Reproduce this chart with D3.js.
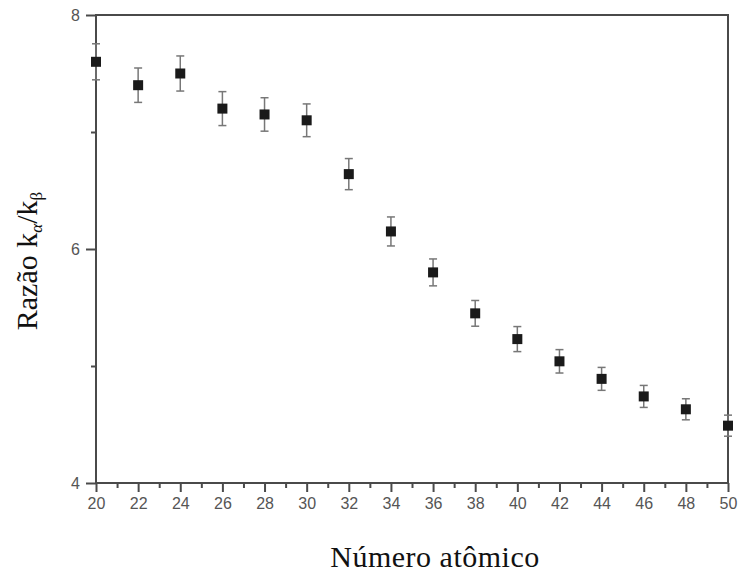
<!DOCTYPE html>
<html>
<head>
<meta charset="utf-8">
<script src="https://cdn.jsdelivr.net/npm/d3@7"></script>
<style>
	body { margin: 0; background: #fff; }
	.tick text { font-family: "Liberation Sans", Arial, sans-serif; }
	.title { font-family: "Liberation Serif", "Times New Roman", serif; }
</style>
</head>
<body>
<div id="chart"></div>
<script>
// valores
var atomicNumber = [20, 22, 24, 26, 28, 30, 32, 34, 36, 38, 40, 42, 44, 46, 48, 50];
var ratio = [7.60, 7.40, 7.50, 7.20, 7.15, 7.10, 6.64, 6.15, 5.80, 5.45, 5.23, 5.04, 4.89, 4.74, 4.63, 4.49];
var ratioErr = [0.154, 0.147, 0.150, 0.145, 0.143, 0.140, 0.133, 0.124, 0.115, 0.110, 0.107, 0.100, 0.098, 0.094, 0.090, 0.090];
var xTicks = [20, 22, 24, 26, 28, 30, 32, 34, 36, 38, 40, 42, 44, 46, 48, 50];
var yTicks = [4, 6, 8];

var w = 739;
var h = 573;

var svg = d3.select("#chart").append("svg")
	.attr("width", w)
	.attr("height", h);

var x = d3.scaleLinear().domain([20, 50]).range([96, 728]);
var y = d3.scaleLinear().domain([4, 8]).range([483, 15]);

var axisColor = "#4a4a4a";
var labelColor = "#555";

// eixo x: maiores a cada 2, menores a cada 1
svg.append("g")
	.attr("transform", "translate(0," + y(4) + ")")
	.call(d3.axisBottom(x).tickValues(d3.range(21, 50, 2)).tickSize(5).tickFormat(""))
	.call(function(g) { g.select(".domain").remove(); });
var gx = svg.append("g")
	.attr("transform", "translate(0," + y(4) + ")")
	.call(d3.axisBottom(x).tickValues(xTicks).tickSize(9).tickPadding(6).tickFormat(d3.format("d")));
gx.select(".domain").remove();

// eixo y
svg.append("g")
	.attr("transform", "translate(" + x(20) + ",0)")
	.call(d3.axisLeft(y).tickValues([5, 7]).tickSize(5).tickFormat(""))
	.call(function(g) { g.select(".domain").remove(); });
var gy = svg.append("g")
	.attr("transform", "translate(" + x(20) + ",0)")
	.call(d3.axisLeft(y).tickValues(yTicks).tickSize(10).tickPadding(6).tickFormat(d3.format("d")));
gy.select(".domain").remove();

svg.selectAll(".tick line")
	.attr("stroke", axisColor)
	.attr("stroke-width", 2);
svg.selectAll(".tick text")
	.attr("fill", labelColor)
	.style("font-size", "16px");

// moldura
svg.append("rect")
	.attr("x", x(20))
	.attr("y", y(8))
	.attr("width", x(50) - x(20))
	.attr("height", y(4) - y(8))
	.attr("fill", "none")
	.attr("stroke", axisColor)
	.attr("stroke-width", 2);

var data = atomicNumber.map(function(d, i) {
	return {z: d, r: ratio[i], e: ratioErr[i]};
});

// barras de erro
var errColor = "#777";
var capW = 4;
var err = svg.append("g").selectAll("g")
	.data(data)
	.enter()
	.append("g");
err.append("line")
	.attr("x1", function(d) { return x(d.z); })
	.attr("x2", function(d) { return x(d.z); })
	.attr("y1", function(d) { return y(d.r + d.e); })
	.attr("y2", function(d) { return y(d.r - d.e); })
	.attr("stroke", errColor)
	.attr("stroke-width", 1.5);
err.append("line")
	.attr("x1", function(d) { return x(d.z) - capW; })
	.attr("x2", function(d) { return x(d.z) + capW; })
	.attr("y1", function(d) { return y(d.r + d.e); })
	.attr("y2", function(d) { return y(d.r + d.e); })
	.attr("stroke", errColor)
	.attr("stroke-width", 1.5);
err.append("line")
	.attr("x1", function(d) { return x(d.z) - capW; })
	.attr("x2", function(d) { return x(d.z) + capW; })
	.attr("y1", function(d) { return y(d.r - d.e); })
	.attr("y2", function(d) { return y(d.r - d.e); })
	.attr("stroke", errColor)
	.attr("stroke-width", 1.5);

// pontos
var size = 10;
svg.append("g").selectAll("rect")
	.data(data)
	.enter()
	.append("rect")
	.attr("x", function(d) { return x(d.z) - size / 2; })
	.attr("y", function(d) { return y(d.r) - size / 2; })
	.attr("width", size)
	.attr("height", size)
	.attr("fill", "#1a1a1a");

// títulos dos eixos
svg.append("text")
	.attr("class", "title")
	.attr("x", 435)
	.attr("y", 567)
	.attr("text-anchor", "middle")
	.style("font-size", "30px")
	.style("letter-spacing", "0.5px")
	.attr("fill", "#111")
	.text("Número atômico");

var yl = svg.append("text")
	.attr("class", "title")
	.attr("transform", "translate(37,261) rotate(-90)")
	.attr("text-anchor", "middle")
	.style("font-size", "30px")
	.attr("fill", "#111");
yl.append("tspan").text("Razão k");
yl.append("tspan").attr("dy", 5).style("font-size", "17px").style("font-style", "italic").text("α");
yl.append("tspan").attr("dy", -5).text("/k");
yl.append("tspan").attr("dy", 5).style("font-size", "17px").text("β");
</script>
</body>
</html>
